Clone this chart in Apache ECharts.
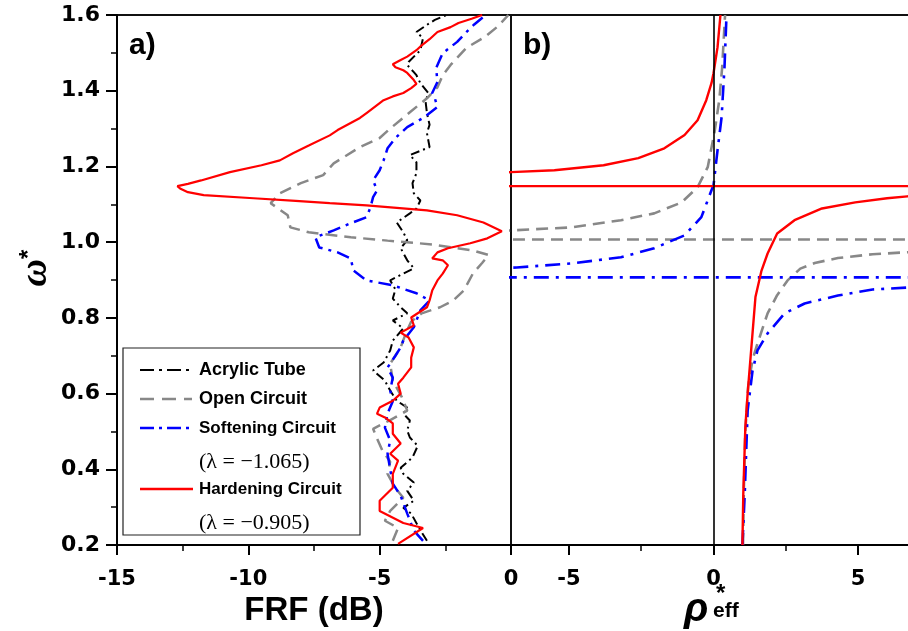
<!DOCTYPE html>
<html>
<head>
<meta charset="utf-8">
<title>FRF and effective density</title>
<script src="https://cdn.jsdelivr.net/npm/echarts@6/dist/echarts.min.js"></script>
<style>
  html, body { margin: 0; padding: 0; background: #fff; }
  #chart { width: 908px; height: 631px; }
</style>
</head>
<body>
<div id="chart"></div>
<script>
// a) FRF (dB), pairs are [dB, omega*]
const acrylicFRF = [
  [-3.2,0.211],[-3.5,0.245],[-3.8,0.283],[-4.1,0.298],[-3.7,0.317],[-3.95,0.343],[-3.7,0.365],
  [-4.1,0.388],[-4.2,0.404],[-3.75,0.431],[-3.55,0.462],[-3.85,0.484],[-3.95,0.502],[-3.85,0.529],
  [-4.1,0.547],[-3.95,0.563],[-4.35,0.581],[-4.6,0.608],[-4.8,0.634],[-5.25,0.661],[-4.85,0.682],
  [-4.6,0.714],[-4.5,0.740],[-4.1,0.772],[-4.5,0.793],[-3.95,0.812],[-4.2,0.828],[-4.5,0.851],
  [-4.4,0.875],[-4.6,0.899],[-3.7,0.931],[-3.95,0.952],[-4.2,0.984],[-3.95,1.005],[-4.1,1.026],
  [-4.35,1.052],[-3.85,1.076],[-3.6,1.089],[-3.45,1.110],[-3.7,1.129],[-3.75,1.156],[-3.6,1.182],
  [-3.6,1.211],[-3.85,1.230],[-3.1,1.251],[-3.2,1.288],[-3.1,1.310],[-3.2,1.341],[-3.25,1.370],
  [-3.15,1.394],[-3.45,1.420],[-3.6,1.441],[-3.7,1.449],[-3.95,1.468],[-3.9,1.476],[-3.45,1.507],
  [-3.35,1.539],[-3.6,1.555],[-3.2,1.574],[-2.9,1.587],[-2.45,1.600]
];
const openFRF = [
  [-4.5,0.211],[-4.3,0.245],[-4.8,0.264],[-4.6,0.290],[-4.1,0.325],[-4.4,0.350],[-4.7,0.388],
  [-4.6,0.420],[-4.9,0.450],[-5.1,0.481],[-5.25,0.507],[-4.6,0.530],[-3.95,0.555],[-4.15,0.590],
  [-4.5,0.634],[-4.6,0.679],[-4.2,0.722],[-4.0,0.760],[-3.8,0.790],[-3.4,0.812],[-2.7,0.828],
  [-2.2,0.846],[-1.8,0.872],[-1.45,0.917],[-1.1,0.945],[-0.85,0.966],[-1.45,0.978],[-3.0,0.994],
  [-4.7,1.004],[-6.1,1.013],[-7.7,1.026],[-8.4,1.039],[-8.5,1.071],[-9.15,1.103],[-8.8,1.129],
  [-8.0,1.156],[-7.15,1.177],[-6.75,1.208],[-5.75,1.251],[-5.0,1.275],[-4.6,1.300],[-3.85,1.343],
  [-3.2,1.380],[-2.8,1.409],[-2.6,1.441],[-2.3,1.468],[-1.7,1.513],[-1.0,1.542],[-0.5,1.570],
  [-0.1,1.600]
];
const softeningFRF = [
  [-3.35,0.211],[-3.7,0.238],[-3.95,0.283],[-4.2,0.330],[-4.5,0.362],[-4.6,0.400],[-4.7,0.441],
  [-4.6,0.476],[-4.8,0.510],[-4.7,0.547],[-4.5,0.580],[-4.6,0.608],[-4.5,0.642],[-4.7,0.669],
  [-4.4,0.700],[-4.2,0.722],[-4.1,0.740],[-3.7,0.775],[-3.45,0.820],[-3.1,0.846],[-3.6,0.865],
  [-4.5,0.886],[-5.5,0.899],[-6.0,0.925],[-6.1,0.957],[-6.6,0.973],[-7.3,0.986],[-7.45,1.013],
  [-6.75,1.031],[-6.1,1.050],[-5.5,1.066],[-5.35,1.092],[-5.25,1.119],[-5.1,1.137],[-5.25,1.163],
  [-5.0,1.190],[-4.85,1.216],[-4.7,1.248],[-4.4,1.275],[-3.95,1.304],[-3.3,1.330],[-2.8,1.357],
  [-2.9,1.380],[-3.0,1.394],[-2.8,1.423],[-2.85,1.460],[-2.6,1.499],[-2.05,1.529],[-1.7,1.555],
  [-1.4,1.575],[-1.05,1.595],[-0.95,1.600]
];
const hardeningFRF = [
  [-4.3,0.203],[-3.35,0.245],[-4.1,0.258],[-5.0,0.290],[-5.0,0.317],[-4.5,0.351],[-4.5,0.388],
  [-4.3,0.423],[-4.6,0.441],[-4.2,0.468],[-4.5,0.494],[-4.5,0.521],[-4.8,0.537],[-5.1,0.547],
  [-5.0,0.563],[-4.5,0.581],[-4.2,0.600],[-4.3,0.626],[-4.1,0.642],[-3.8,0.669],[-3.8,0.695],
  [-3.7,0.722],[-3.9,0.748],[-4.2,0.761],[-3.7,0.780],[-3.8,0.801],[-3.2,0.828],[-3.1,0.846],
  [-3.0,0.872],[-2.8,0.899],[-2.6,0.917],[-2.4,0.939],[-2.6,0.952],[-3.0,0.957],[-2.8,0.973],
  [-2.4,0.984],[-1.55,0.997],[-0.9,1.010],[-0.35,1.029],[-1.05,1.052],[-2.05,1.071],[-3.2,1.084],
  [-5.5,1.097],[-6.9,1.103],[-8.2,1.109],[-9.8,1.116],[-11.7,1.124],[-12.3,1.132],[-12.6,1.142],
  [-12.7,1.148],[-12.3,1.154],[-11.8,1.163],[-10.7,1.185],[-9.5,1.203],[-8.8,1.216],[-8.3,1.235],
  [-7.7,1.255],[-6.9,1.282],[-6.6,1.296],[-5.75,1.328],[-5.5,1.341],[-4.85,1.375],[-4.5,1.385],
  [-4.1,1.394],[-3.8,1.407],[-3.6,1.418],[-3.7,1.428],[-3.95,1.447],[-4.1,1.454],[-4.4,1.462],
  [-4.5,1.470],[-4.2,1.481],[-3.95,1.490],[-3.6,1.507],[-3.4,1.520],[-3.1,1.536],[-2.8,1.555],
  [-2.3,1.568],[-2.0,1.579],[-1.5,1.590],[-1.1,1.600]
];

// b) effective density, pairs are [rho*, omega*]; +-50 stands for the jump through infinity
const openRho = [
  [1.02,0.2],[1.05,0.35],[1.1,0.5],[1.2,0.62],[1.35,0.69],[1.52,0.732],[1.87,0.812],[2.2,0.86],
  [2.56,0.899],[3.0,0.93],[3.5,0.945],[4.3,0.958],[5.5,0.968],[6.6,0.973],[7.5,0.976],
  [50,1.007],[-50,1.007],
  [-7.5,1.029],[-7.0,1.031],[-4.9,1.039],[-3.2,1.058],[-2.05,1.076],[-1.1,1.105],[-0.55,1.145],
  [-0.2,1.198],[0.03,1.288],[0.2,1.375],[0.3,1.462],[0.4,1.6]
];
const softeningRho = [
  [1.0,0.2],[1.08,0.335],[1.18,0.555],[1.35,0.661],[1.52,0.714],[1.87,0.759],[2.46,0.812],
  [3.15,0.838],[4.3,0.859],[5.5,0.875],[6.7,0.88],[7.5,0.882],
  [50,0.907],[-50,0.907],
  [-7.5,0.931],[-6.8,0.933],[-4.9,0.944],[-3.2,0.96],[-2.05,0.984],[-1.0,1.018],[-0.42,1.066],
  [-0.07,1.137],[0,1.15],[0.14,1.243],[0.28,1.33],[0.38,1.462],[0.45,1.6]
];
const hardeningRho = [
  [1.0,0.2],[1.03,0.335],[1.1,0.51],[1.18,0.60],[1.32,0.732],[1.45,0.855],[1.66,0.925],
  [1.87,0.970],[2.2,1.023],[2.8,1.058],[3.75,1.089],[4.9,1.105],[6.0,1.116],[6.7,1.121],[7.5,1.125],
  [50,1.148],[-50,1.148],
  [-7.5,1.183],[-7.0,1.185],[-5.5,1.190],[-3.8,1.203],[-2.6,1.222],[-1.7,1.248],[-1.0,1.283],
  [-0.55,1.322],[-0.25,1.375],[-0.07,1.42],[0,1.446],[0.14,1.515],[0.24,1.6]
];

const frfTicks = [-15, -10, -5, 0];
const rhoTicks = [-5, 0, 5];
const rhoMinorTicks = [-2.5, 2.5];

var chartDom = document.getElementById('chart');
var myChart = echarts.init(chartDom);

var tickFont = { fontFamily: 'DejaVu Sans', fontWeight: 'bold', fontSize: 21, color: '#000' };
var black = { color: '#000', width: 2 };
var hidden = { show: false };

// line styles of the four cases
var styles = {
  acrylic: { color: '#000000', width: 2, type: [9, 4, 2, 4] },
  open: { color: '#888888', width: 2.5, type: [12, 7] },
  soft: { color: '#0000ff', width: 2.5, type: [13, 6, 3, 6] },
  hard: { color: '#ff0000', width: 2.2, type: 'solid' }
};

function lineSeries(name, data, st, axis) {
  return {
    name: name,
    type: 'line',
    xAxisIndex: axis,
    yAxisIndex: axis,
    data: data,
    symbol: 'none',
    clip: true,
    lineStyle: st,
    z: 3
  };
}

var option = {
  animation: false,
  backgroundColor: '#fff',
  grid: [
    { left: 117, top: 15, width: 394, height: 530, outerBoundsMode: 'none', containLabel: false,
      show: true, borderColor: '#111', borderWidth: 2 },
    { left: 511, top: 15, width: 405, height: 530, outerBoundsMode: 'none', containLabel: false,
      show: true, borderColor: '#111', borderWidth: 2 }
  ],
  xAxis: [
    {
      type: 'value', gridIndex: 0, min: -15, max: 0, interval: 5,
      axisLine: { show: true, onZero: false, lineStyle: black },
      axisTick: { show: true, length: 10, lineStyle: black },
      minorTick: { show: true, splitNumber: 2, length: 6, lineStyle: { color: '#000', width: 1.5 } },
      splitLine: hidden,
      axisLabel: Object.assign({ margin: 24, customValues: frfTicks }, tickFont),
      name: 'FRF (dB)', nameLocation: 'middle', nameGap: 46,
      nameTextStyle: { fontFamily: 'Liberation Sans', fontWeight: 'bold', fontSize: 33, color: '#000' }
    },
    {
      type: 'value', gridIndex: 1, min: -7, max: 7,
      axisLine: { show: true, onZero: false, lineStyle: black },
      axisTick: { show: true, length: 10, lineStyle: black, customValues: rhoTicks },
      splitLine: hidden,
      axisLabel: Object.assign({ margin: 24, customValues: rhoTicks }, tickFont)
    },
    {
      // only the short ticks between -5, 0 and 5
      type: 'value', gridIndex: 1, min: -7, max: 7, position: 'bottom',
      axisLine: { show: false, onZero: false },
      axisTick: { show: true, length: 6, lineStyle: { color: '#000', width: 1.5 }, customValues: rhoMinorTicks },
      axisLabel: hidden,
      splitLine: hidden
    }
  ],
  yAxis: [
    {
      type: 'value', gridIndex: 0, min: 0.2, max: 1.6, interval: 0.2,
      axisLine: { show: true, onZero: false, lineStyle: black },
      axisTick: { show: true, length: 11, lineStyle: black },
      minorTick: { show: true, splitNumber: 2, length: 6, lineStyle: { color: '#000', width: 1.5 } },
      splitLine: hidden,
      axisLabel: Object.assign({ margin: 17, formatter: function (v) { return v.toFixed(1); } }, tickFont, { fontSize: 22 }),
      name: '{w|ω}{s|*}', nameLocation: 'middle', nameGap: 62, nameRotate: 90,
      nameTextStyle: {
        padding: [0, 0, 0, 24],
        rich: {
          w: { fontFamily: 'Liberation Serif', fontStyle: 'italic', fontWeight: 'bold', fontSize: 38, color: '#000' },
          s: { fontFamily: 'Liberation Sans', fontWeight: 'bold', fontSize: 24, color: '#000', padding: [0, 0, 14, 0] }
        }
      }
    },
    {
      type: 'value', gridIndex: 1, min: 0.2, max: 1.6, show: false,
      axisLine: { show: false, onZero: false }, axisTick: hidden, minorTick: hidden, axisLabel: hidden, splitLine: hidden
    }
  ],
  series: [
    lineSeries('Acrylic Tube', acrylicFRF, styles.acrylic, 0),
    lineSeries('Open Circuit', openFRF, styles.open, 0),
    lineSeries('Softening Circuit', softeningFRF, styles.soft, 0),
    lineSeries('Hardening Circuit', hardeningFRF, styles.hard, 0),
    {
      // rho* = 0 line in panel b
      type: 'line', xAxisIndex: 1, yAxisIndex: 1, data: [], symbol: 'none',
      markLine: {
        silent: true, symbol: 'none', label: { show: false },
        lineStyle: { color: '#000', width: 1.6, type: 'solid' },
        data: [{ xAxis: 0 }]
      }
    },
    lineSeries('Open Circuit b', openRho, Object.assign({}, styles.open, { width: 2.6 }), 1),
    lineSeries('Softening Circuit b', softeningRho, Object.assign({}, styles.soft, { width: 2.6, type: [15, 7, 3, 7] }), 1),
    lineSeries('Hardening Circuit b', hardeningRho, Object.assign({}, styles.hard, { width: 2.4 }), 1)
  ],
  graphic: [
    { type: 'text', left: 129, top: 31, z: 10, style: { text: 'a)', font: 'bold 30px "Liberation Sans"', fill: '#000' } },
    { type: 'text', left: 523, top: 31, z: 10, style: { text: 'b)', font: 'bold 30px "Liberation Sans"', fill: '#000' } },
    // legend box of panel a
    {
      type: 'group', z: 20,
      children: [
        { type: 'rect', shape: { x: 123, y: 348, width: 237, height: 187 }, style: { fill: '#fff', stroke: '#222', lineWidth: 1.2 } },
        { type: 'line', shape: { x1: 140, y1: 370, x2: 190, y2: 370 }, style: { stroke: '#000', lineWidth: 2.2, lineDash: [14, 5, 3, 5] } },
        { type: 'line', shape: { x1: 140, y1: 399, x2: 192, y2: 399 }, style: { stroke: '#888', lineWidth: 2.5, lineDash: [14, 8] } },
        { type: 'line', shape: { x1: 140, y1: 428, x2: 190, y2: 428 }, style: { stroke: '#0000ff', lineWidth: 2.5, lineDash: [14, 5, 3, 5] } },
        { type: 'line', shape: { x1: 140, y1: 489, x2: 193, y2: 489 }, style: { stroke: '#ff0000', lineWidth: 2.5 } },
        { type: 'text', style: { x: 199, y: 370, text: 'Acrylic Tube', font: 'bold 18px "Liberation Sans"', fill: '#000', textVerticalAlign: 'middle' } },
        { type: 'text', style: { x: 199, y: 399, text: 'Open Circuit', font: 'bold 18px "Liberation Sans"', fill: '#000', textVerticalAlign: 'middle' } },
        { type: 'text', style: { x: 199, y: 428, text: 'Softening Circuit', font: 'bold 17px "Liberation Sans"', fill: '#000', textVerticalAlign: 'middle' } },
        { type: 'text', style: { x: 199, y: 462, text: '(λ = −1.065)', font: '22px "Liberation Serif"', fill: '#000', textVerticalAlign: 'middle' } },
        { type: 'text', style: { x: 199, y: 489, text: 'Hardening Circuit', font: 'bold 17px "Liberation Sans"', fill: '#000', textVerticalAlign: 'middle' } },
        { type: 'text', style: { x: 199, y: 523, text: '(λ = −0.905)', font: '22px "Liberation Serif"', fill: '#000', textVerticalAlign: 'middle' } }
      ]
    },
    // axis name of panel b: rho with * and eff
    { type: 'text', z: 10, style: { x: 684, y: 590, text: 'ρ', font: 'italic bold 40px "Liberation Sans"', fill: '#000' } },
    { type: 'text', z: 10, style: { x: 716, y: 582, text: '*', font: 'bold 24px "Liberation Sans"', fill: '#000' } },
    { type: 'text', z: 10, style: { x: 713, y: 601, text: 'eff', font: 'bold 21px "Liberation Sans"', fill: '#000' } }
  ]
};

option && myChart.setOption(option);
</script>
</body>
</html>
